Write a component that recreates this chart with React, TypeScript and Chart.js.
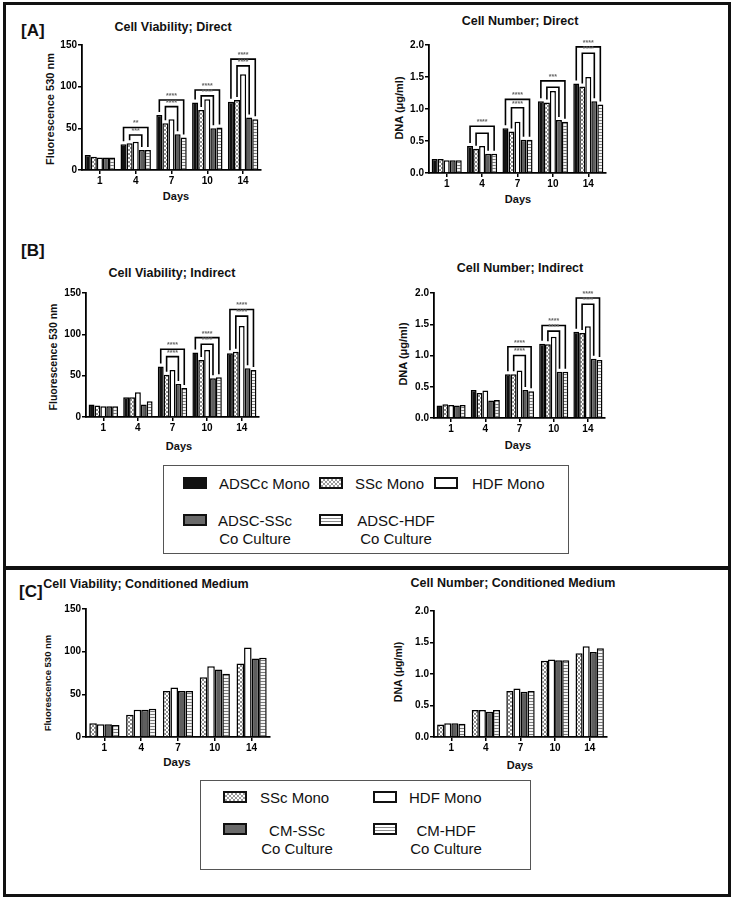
import React, { useEffect, useRef } from 'react';
import { Chart, registerables } from 'chart.js';
Chart.register(...registerables);

const FONT = '"Liberation Sans", Arial, sans-serif';

// ---------- data ----------
const DAYS = ['1', '4', '7', '10', '14'];

// [A] Direct – viability (Fluorescence 530 nm)
const A_VIAB_ADSC = [18, 31, 66, 81, 82];
const A_VIAB_SSC = [16, 32, 56, 72, 84];
const A_VIAB_HDF = [15, 34, 61, 85, 115];
const A_VIAB_ADSC_SSC = [15, 24, 43, 50, 63];
const A_VIAB_ADSC_HDF = [15, 24, 39, 51, 61];
// [A] Direct – DNA (µg/ml)
const A_DNA_ADSC = [0.22, 0.42, 0.7, 1.12, 1.4];
const A_DNA_SSC = [0.22, 0.38, 0.65, 1.1, 1.35];
const A_DNA_HDF = [0.2, 0.42, 0.8, 1.28, 1.5];
const A_DNA_ADSC_SSC = [0.2, 0.3, 0.52, 0.83, 1.12];
const A_DNA_ADSC_HDF = [0.2, 0.3, 0.52, 0.8, 1.07];

// [B] Indirect – viability
const B_VIAB_ADSC = [15, 24, 61, 78, 77];
const B_VIAB_SSC = [14, 24, 51, 69, 79];
const B_VIAB_HDF = [13, 30, 57, 81, 110];
const B_VIAB_ADSC_SSC = [13, 15, 40, 47, 59];
const B_VIAB_ADSC_HDF = [13, 19, 35, 48, 57];
// [B] Indirect – DNA
const B_DNA_ADSC = [0.2, 0.45, 0.7, 1.19, 1.38];
const B_DNA_SSC = [0.22, 0.4, 0.7, 1.18, 1.36];
const B_DNA_HDF = [0.21, 0.44, 0.76, 1.3, 1.47];
const B_DNA_ADSC_SSC = [0.2, 0.28, 0.45, 0.74, 0.95];
const B_DNA_ADSC_HDF = [0.21, 0.29, 0.43, 0.74, 0.93];

// [C] Conditioned medium – viability
const C_VIAB_SSC = [16, 26, 54, 70, 86];
const C_VIAB_HDF = [15, 32, 58, 83, 105];
const C_VIAB_CM_SSC = [15, 32, 54, 79, 92];
const C_VIAB_CM_HDF = [14, 33, 54, 74, 93];
// [C] Conditioned medium – DNA
const C_DNA_SSC = [0.2, 0.43, 0.73, 1.21, 1.33];
const C_DNA_HDF = [0.22, 0.43, 0.77, 1.23, 1.44];
const C_DNA_CM_SSC = [0.22, 0.4, 0.72, 1.22, 1.35];
const C_DNA_CM_HDF = [0.21, 0.43, 0.73, 1.22, 1.41];

// significance brackets: day index, from/to series index, height (data units), label
const A_VIAB_BRACKETS = [
  { day: 1, from: 0, to: 4, y: 51, label: '**' },
  { day: 1, from: 1, to: 3, y: 42, label: '***' },
  { day: 2, from: 0, to: 4, y: 84, label: '****' },
  { day: 2, from: 1, to: 3, y: 76, label: '****' },
  { day: 3, from: 0, to: 4, y: 96, label: '****' },
  { day: 3, from: 1, to: 3, y: 89, label: '****' },
  { day: 4, from: 0, to: 4, y: 133, label: '****' },
  { day: 4, from: 1, to: 3, y: 125, label: '****' },
];
const A_DNA_BRACKETS = [
  { day: 1, from: 0, to: 4, y: 0.73, label: '****' },
  { day: 1, from: 1, to: 3, y: 0.62, label: '' },
  { day: 2, from: 0, to: 4, y: 1.15, label: '****' },
  { day: 2, from: 1, to: 3, y: 1.02, label: '****' },
  { day: 3, from: 0, to: 4, y: 1.44, label: '***' },
  { day: 3, from: 1, to: 3, y: 1.34, label: '' },
  { day: 4, from: 0, to: 4, y: 1.97, label: '****' },
  { day: 4, from: 1, to: 3, y: 1.87, label: '****' },
];
const B_VIAB_BRACKETS = [
  { day: 2, from: 0, to: 4, y: 82, label: '****' },
  { day: 2, from: 1, to: 3, y: 73, label: '****' },
  { day: 3, from: 0, to: 4, y: 96, label: '****' },
  { day: 3, from: 1, to: 3, y: 88, label: '****' },
  { day: 4, from: 0, to: 4, y: 130, label: '****' },
  { day: 4, from: 1, to: 3, y: 122, label: '****' },
];
const B_DNA_BRACKETS = [
  { day: 2, from: 0, to: 4, y: 1.14, label: '****' },
  { day: 2, from: 1, to: 3, y: 1.0, label: '****' },
  { day: 3, from: 0, to: 4, y: 1.48, label: '****' },
  { day: 3, from: 1, to: 3, y: 1.39, label: '****' },
  { day: 4, from: 0, to: 4, y: 1.92, label: '****' },
  { day: 4, from: 1, to: 3, y: 1.82, label: '****' },
];

// ---------- fills ----------
type FillKey = 'black' | 'checker' | 'white' | 'grey' | 'stripe';

function makePattern(kind: 'checker' | 'stripe'): CanvasPattern | string {
  const c = document.createElement('canvas');
  const g = c.getContext('2d');
  if (!g) return '#ccc';
  if (kind === 'checker') {
    c.width = 4; c.height = 4;
    g.fillStyle = '#fff'; g.fillRect(0, 0, 4, 4);
    g.fillStyle = '#8e8e8e';
    g.fillRect(0, 0, 2, 2); g.fillRect(2, 2, 2, 2);
  } else {
    c.width = 4; c.height = 3;
    g.fillStyle = '#f4f4f4'; g.fillRect(0, 0, 4, 3);
    g.fillStyle = '#7a7a7a'; g.fillRect(0, 2, 4, 1);
  }
  return g.createPattern(c, 'repeat') || '#ccc';
}

function fillFor(k: FillKey): any {
  if (k === 'black') return '#111';
  if (k === 'white') return '#fff';
  if (k === 'grey') return '#5e5e5e';
  return makePattern(k);
}

type Series = { label: string; data: number[]; fill: FillKey };
type Box = { left: number; top: number; right: number; bottom: number };
type Bracket = { day: number; from: number; to: number; y: number; label: string };

const YW = 30, XH = 18, PT = 8, PR = 6;

function BarPanel({ box, series, yMax, yStep, decimals, brackets, catPct }: {
  box: Box; series: Series[]; yMax: number; yStep: number; decimals: number; brackets: Bracket[]; catPct: number;
}) {
  const ref = useRef<HTMLCanvasElement>(null);
  const W = YW + (box.right - box.left) + PR;
  const H = PT + (box.bottom - box.top) + XH;
  useEffect(() => {
    if (!ref.current) return;
    const bracketPlugin = {
      id: 'sigBrackets',
      afterDatasetsDraw(chart: any) {
        const ctx = chart.ctx;
        const yS = chart.scales.y;
        ctx.save();
        ctx.strokeStyle = '#000';
        ctx.lineWidth = 1.6;
        brackets.forEach((b) => {
          const e1 = chart.getDatasetMeta(b.from).data[b.day];
          const e2 = chart.getDatasetMeta(b.to).data[b.day];
          const yy = yS.getPixelForValue(b.y);
          ctx.beginPath();
          ctx.moveTo(e1.x, e1.y - 3);
          ctx.lineTo(e1.x, yy);
          ctx.lineTo(e2.x, yy);
          ctx.lineTo(e2.x, e2.y - 3);
          ctx.stroke();
          if (b.label) {
            ctx.fillStyle = '#666';
            ctx.font = 'bold 7px ' + FONT;
            ctx.textAlign = 'center';
            ctx.textBaseline = 'bottom';
            ctx.fillText(b.label, (e1.x + e2.x) / 2, yy - 0.5);
          }
        });
        ctx.restore();
      },
    };
    const tickFont = { family: FONT, weight: 'bold' as const, size: 10 };
    const chart = new Chart(ref.current, {
      type: 'bar',
      data: {
        labels: DAYS,
        datasets: series.map((s) => ({
          label: s.label,
          data: s.data,
          backgroundColor: fillFor(s.fill),
          borderColor: '#000',
          borderWidth: 1.5,
          borderSkipped: 'bottom' as const,
          categoryPercentage: catPct,
          barPercentage: 1,
        })),
      },
      options: {
        animation: false,
        responsive: false,
        maintainAspectRatio: false,
        devicePixelRatio: 1,
        layout: { padding: { top: PT, right: PR, left: 0, bottom: 0 } },
        plugins: { legend: { display: false }, title: { display: false }, tooltip: { enabled: false } },
        scales: {
          x: {
            grid: { display: true, drawOnChartArea: false, offset: false, tickLength: 4, color: '#000', lineWidth: 1.5 },
            border: { display: true, color: '#000', width: 1.8 },
            ticks: { color: '#000', font: tickFont, padding: 1, maxRotation: 0, autoSkip: false },
            afterFit: (s: any) => { s.height = XH; },
          },
          y: {
            min: 0,
            max: yMax,
            grid: { display: true, drawOnChartArea: false, tickLength: 4, color: '#000', lineWidth: 1.5 },
            border: { display: true, color: '#000', width: 1.8 },
            ticks: {
              stepSize: yStep,
              color: '#000',
              font: tickFont,
              padding: 1,
              callback: (v: any) => Number(v).toFixed(decimals),
            },
            afterFit: (s: any) => { s.width = YW; },
          },
        },
      },
      plugins: [bracketPlugin],
    });
    return () => chart.destroy();
  }, []);
  return (
    <canvas
      ref={ref}
      width={W}
      height={H}
      style={{ position: 'absolute', left: box.left - YW, top: box.top - PT, width: W, height: H }}
    />
  );
}

function T({ x, y, size, bold = true, rot = false, left = false, children, weight }: any) {
  const tx = left ? '0' : '-50%';
  return (
    <div
      style={{
        position: 'absolute',
        left: x,
        top: y,
        transform: `translate(${tx},-50%)${rot ? ' rotate(-90deg)' : ''}`,
        fontSize: size,
        fontWeight: weight || (bold ? 700 : 400),
        whiteSpace: 'nowrap',
        lineHeight: 1,
        fontFamily: FONT,
        color: '#111',
      }}
    >
      {children}
    </div>
  );
}

const SWATCH_CSS: Record<FillKey, string> = {
  black: '#111',
  white: '#fff',
  grey: '#6a6a6a',
  checker: 'repeating-conic-gradient(#9a9a9a 0 25%, #fff 0 50%) 0 0 / 4px 4px',
  stripe: 'repeating-linear-gradient(#fff 0 2px, #8a8a8a 2px 3px)',
};

function Swatch({ x, y, kind }: { x: number; y: number; kind: FillKey }) {
  return (
    <div
      style={{
        position: 'absolute',
        left: x,
        top: y - 6,
        width: 24,
        height: 12,
        boxSizing: 'border-box',
        border: '2.5px solid #111',
        background: SWATCH_CSS[kind],
      }}
    />
  );
}

const AB_SERIES_NAMES = ['ADSCc Mono', 'SSc Mono', 'HDF Mono', 'ADSC-SSc Co Culture', 'ADSC-HDF Co Culture'];
const AB_FILLS: FillKey[] = ['black', 'checker', 'white', 'grey', 'stripe'];
const C_SERIES_NAMES = ['SSc Mono', 'HDF Mono', 'CM-SSc Co Culture', 'CM-HDF Co Culture'];
const C_FILLS: FillKey[] = ['checker', 'white', 'grey', 'stripe'];

function mk(names: string[], fills: FillKey[], data: number[][]): Series[] {
  return names.map((n, i) => ({ label: n, data: data[i], fill: fills[i] }));
}

export default function App() {
  const aViab = mk(AB_SERIES_NAMES, AB_FILLS, [A_VIAB_ADSC, A_VIAB_SSC, A_VIAB_HDF, A_VIAB_ADSC_SSC, A_VIAB_ADSC_HDF]);
  const aDna = mk(AB_SERIES_NAMES, AB_FILLS, [A_DNA_ADSC, A_DNA_SSC, A_DNA_HDF, A_DNA_ADSC_SSC, A_DNA_ADSC_HDF]);
  const bViab = mk(AB_SERIES_NAMES, AB_FILLS, [B_VIAB_ADSC, B_VIAB_SSC, B_VIAB_HDF, B_VIAB_ADSC_SSC, B_VIAB_ADSC_HDF]);
  const bDna = mk(AB_SERIES_NAMES, AB_FILLS, [B_DNA_ADSC, B_DNA_SSC, B_DNA_HDF, B_DNA_ADSC_SSC, B_DNA_ADSC_HDF]);
  const cViab = mk(C_SERIES_NAMES, C_FILLS, [C_VIAB_SSC, C_VIAB_HDF, C_VIAB_CM_SSC, C_VIAB_CM_HDF]);
  const cDna = mk(C_SERIES_NAMES, C_FILLS, [C_DNA_SSC, C_DNA_HDF, C_DNA_CM_SSC, C_DNA_CM_HDF]);

  return (
    <div style={{ position: 'absolute', left: 0, top: 0, width: 734, height: 899, background: '#fff', overflow: 'hidden' }}>
      {/* frames */}
      <div style={{ position: 'absolute', left: 3, top: 2, width: 728, height: 895, boxSizing: 'border-box', border: '3px solid #111' }} />
      <div style={{ position: 'absolute', left: 3, top: 566, width: 728, height: 4, background: '#111' }} />

      {/* [A] */}
      <T x={21} y={30} size={17} left>[A]</T>
      <T x={173} y={27} size={12.5}>Cell Viability; Direct</T>
      <T x={50} y={109} size={11} rot>Fluorescence 530 nm</T>
      <T x={176} y={196} size={11}>Days</T>
      <BarPanel box={{ left: 82, top: 45, right: 261, bottom: 170 }} series={aViab} yMax={150} yStep={50} decimals={0} brackets={A_VIAB_BRACKETS} catPct={0.85} />

      <T x={520} y={21} size={12.5}>Cell Number; Direct</T>
      <T x={399} y={108} size={11} rot>DNA (μg/ml)</T>
      <T x={518} y={199} size={11}>Days</T>
      <BarPanel box={{ left: 429, top: 45, right: 606, bottom: 173 }} series={aDna} yMax={2} yStep={0.5} decimals={1} brackets={A_DNA_BRACKETS} catPct={0.85} />

      {/* [B] */}
      <T x={21} y={250} size={17} left>[B]</T>
      <T x={172} y={273} size={12.5}>Cell Viability; Indirect</T>
      <T x={53} y={357} size={10.5} rot>Fluorescence 530 nm</T>
      <T x={179} y={446} size={11}>Days</T>
      <BarPanel box={{ left: 86, top: 293, right: 259, bottom: 417 }} series={bViab} yMax={150} yStep={50} decimals={0} brackets={B_VIAB_BRACKETS} catPct={0.85} />

      <T x={520} y={268} size={12.5}>Cell Number; Indirect</T>
      <T x={403} y={354} size={11} rot>DNA (μg/ml)</T>
      <T x={518} y={445} size={11}>Days</T>
      <BarPanel box={{ left: 434, top: 293, right: 605, bottom: 418 }} series={bDna} yMax={2} yStep={0.5} decimals={1} brackets={B_DNA_BRACKETS} catPct={0.85} />

      {/* legend A/B */}
      <div style={{ position: 'absolute', left: 163, top: 465, width: 406, height: 89, boxSizing: 'border-box', border: '1.5px solid #555' }} />
      <Swatch x={183} y={483} kind="black" />
      <T x={219} y={483} size={15} bold={false} left>ADSCc Mono</T>
      <Swatch x={319} y={483} kind="checker" />
      <T x={355} y={483} size={15} bold={false} left>SSc Mono</T>
      <Swatch x={434} y={483} kind="white" />
      <T x={472} y={483} size={15} bold={false} left>HDF Mono</T>
      <Swatch x={183} y={520} kind="grey" />
      <T x={255} y={520} size={15} bold={false}>ADSC-SSc</T>
      <T x={255} y={538} size={15} bold={false}>Co Culture</T>
      <Swatch x={319} y={520} kind="stripe" />
      <T x={396} y={520} size={15} bold={false}>ADSC-HDF</T>
      <T x={396} y={538} size={15} bold={false}>Co Culture</T>

      {/* [C] */}
      <T x={19} y={591} size={17} left>[C]</T>
      <T x={146} y={584} size={12.5}>Cell Viability; Conditioned Medium</T>
      <T x={48} y={683} size={9.5} rot weight={600}>Fluorescence 530 nm</T>
      <T x={177} y={763} size={11.5}>Days</T>
      <BarPanel box={{ left: 86, top: 609, right: 270, bottom: 737 }} series={cViab} yMax={150} yStep={50} decimals={0} brackets={[]} catPct={0.82} />

      <T x={513} y={583} size={12.5}>Cell Number; Conditioned Medium</T>
      <T x={398} y={672} size={10.5} rot>DNA (μg/ml)</T>
      <T x={520} y={765} size={11}>Days</T>
      <BarPanel box={{ left: 434, top: 611, right: 607, bottom: 737 }} series={cDna} yMax={2} yStep={0.5} decimals={1} brackets={[]} catPct={0.82} />

      {/* legend C */}
      <div style={{ position: 'absolute', left: 200, top: 780, width: 331, height: 90, boxSizing: 'border-box', border: '1.5px solid #555' }} />
      <Swatch x={223} y={797} kind="checker" />
      <T x={260} y={797} size={15} bold={false} left>SSc Mono</T>
      <Swatch x={373} y={797} kind="white" />
      <T x={409} y={797} size={15} bold={false} left>HDF Mono</T>
      <Swatch x={223} y={829} kind="grey" />
      <T x={297} y={830} size={15} bold={false}>CM-SSc</T>
      <T x={297} y={848} size={15} bold={false}>Co Culture</T>
      <Swatch x={373} y={829} kind="stripe" />
      <T x={446} y={830} size={15} bold={false}>CM-HDF</T>
      <T x={446} y={848} size={15} bold={false}>Co Culture</T>
    </div>
  );
}
